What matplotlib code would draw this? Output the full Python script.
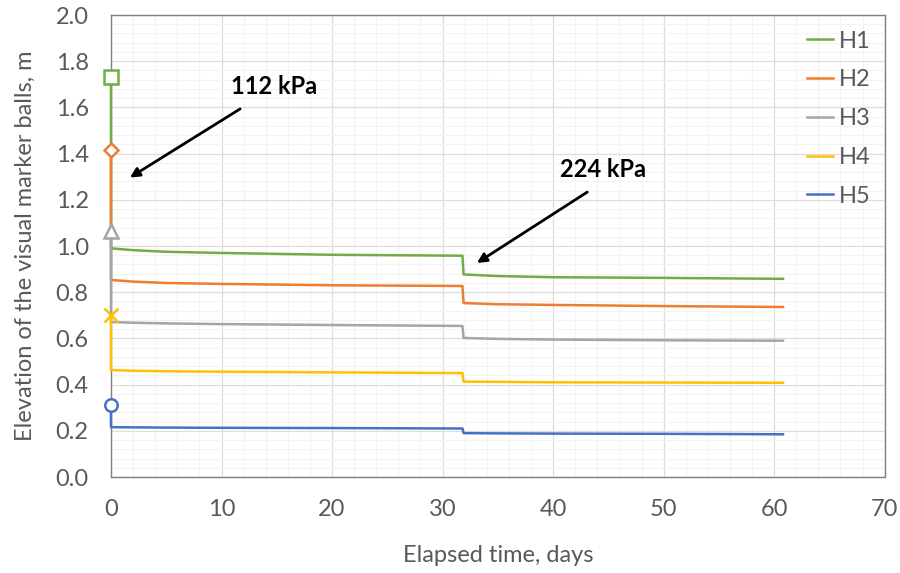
"""Elevation of visual marker balls over elapsed time."""

import matplotlib
matplotlib.use("Agg")
import matplotlib.pyplot as plt
from matplotlib.ticker import MultipleLocator

plt.rcParams["font.family"] = ["Lato", "DejaVu Sans"]

# time axis for the settlement curves (days)
time = [0, 2, 5, 10, 20, 31.8, 31.9, 35, 40, 50, 60.8]

series = ["H1", "H2", "H3", "H4", "H5"]
initial = [1.73, 1.415, 1.065, 0.70, 0.31]
H1 = [0.990, 0.982, 0.975, 0.970, 0.962, 0.958, 0.877, 0.870, 0.865, 0.862, 0.858]
H2 = [0.853, 0.846, 0.840, 0.836, 0.830, 0.827, 0.753, 0.748, 0.745, 0.740, 0.736]
H3 = [0.671, 0.668, 0.665, 0.662, 0.658, 0.654, 0.602, 0.598, 0.595, 0.592, 0.590]
H4 = [0.463, 0.460, 0.458, 0.456, 0.453, 0.450, 0.413, 0.412, 0.410, 0.409, 0.408]
H5 = [0.216, 0.215, 0.214, 0.213, 0.212, 0.210, 0.190, 0.189, 0.188, 0.187, 0.185]
values = [H1, H2, H3, H4, H5]

colors = ["#70AD47", "#ED7D31", "#A5A5A5", "#FFC000", "#4472C4"]
markers = ["s", "D", "^", "x", "o"]
msizes = [10, 7, 10, 10, 9]

fig = plt.figure(figsize=(9, 5.73), dpi=100)
ax = fig.add_axes([0.1233, 0.1675, 0.8597, 0.8063])

for name, init, vals, c, m, ms in zip(series, initial, values, colors, markers, msizes):
    ax.plot([0] + time, [init] + vals, color=c, lw=1.8, label=name,
            marker=m, markevery=[0], ms=ms, mfc="white", mec=c, mew=1.8,
            clip_on=False, zorder=3)

ax.set_xlim(0, 70)
ax.set_ylim(0, 2.0)
ax.xaxis.set_major_locator(MultipleLocator(10))
ax.xaxis.set_minor_locator(MultipleLocator(2))
ax.yaxis.set_major_locator(MultipleLocator(0.2))
ax.yaxis.set_minor_locator(MultipleLocator(0.04))
ax.yaxis.set_major_formatter(plt.FormatStrFormatter("%.1f"))
ax.grid(which="major", color="#DDDDDD", lw=0.9)
ax.grid(which="minor", color="#F3F3F3", lw=0.8)
ax.set_axisbelow(True)

for sp in ax.spines.values():
    sp.set_color("#7F7F7F")
    sp.set_linestyle((0, (1, 1)))
    sp.set_linewidth(1.0)

ax.tick_params(which="both", length=0, labelsize=17, colors="#595959")
ax.tick_params(axis="x", pad=16)
ax.tick_params(axis="y", pad=16)

ax.set_xlabel("Elapsed time, days", fontsize=17, color="#595959", labelpad=18)
ax.set_ylabel("Elevation of the visual marker balls, m", fontsize=17,
              color="#595959", labelpad=14)

ax.annotate("", xy=(1.5, 1.29), xytext=(11.9, 1.60),
            arrowprops=dict(arrowstyle="-|>", color="black", lw=2,
                            mutation_scale=14))
ax.text(14.8, 1.69, "112 kPa", fontsize=17, fontweight="bold", ha="center",
        va="center")
ax.annotate("", xy=(32.9, 0.92), xytext=(43.3, 1.24),
            arrowprops=dict(arrowstyle="-|>", color="black", lw=2,
                            mutation_scale=14))
ax.text(44.5, 1.33, "224 kPa", fontsize=17, fontweight="bold", ha="center",
        va="center")

leg = ax.legend(loc="upper right", bbox_to_anchor=(1.01, 1.012), frameon=False,
                fontsize=17, handlelength=1.1, handletextpad=0.25,
                labelspacing=0.75, markerscale=0)
for t in leg.get_texts():
    t.set_color("#595959")
for h in leg.legend_handles:
    h.set_marker("")

fig.savefig("out.png", dpi=100)
